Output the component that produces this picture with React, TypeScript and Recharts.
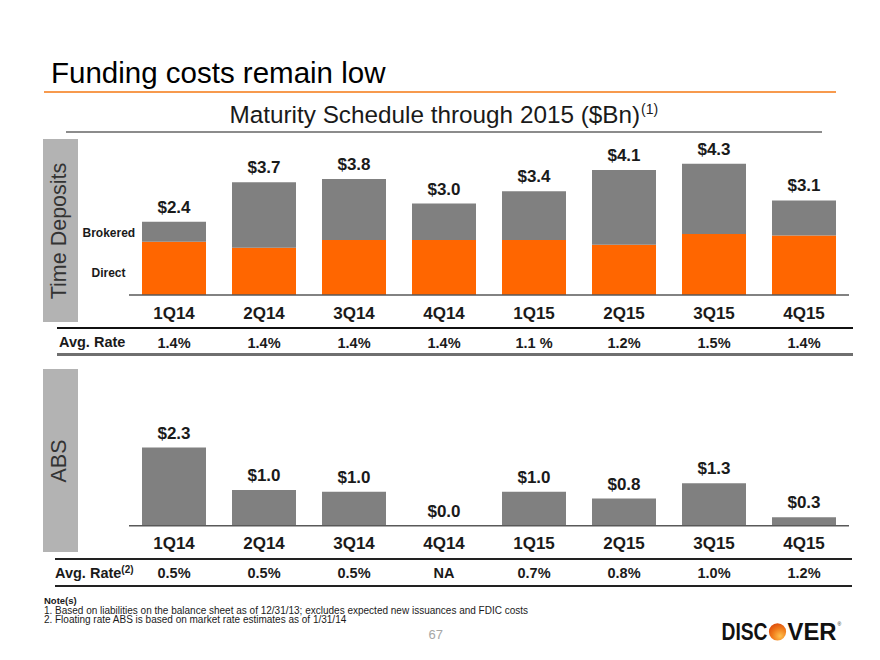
import React from "react";
import { BarChart, Bar, XAxis, YAxis, LabelList } from "recharts";

const quarters = ["1Q14", "2Q14", "3Q14", "4Q14", "1Q15", "2Q15", "3Q15", "4Q15"];

// Time deposits ($Bn)
const depositTotals = [2.4, 3.7, 3.8, 3.0, 3.4, 4.1, 4.3, 3.1];
const directDeposits = [1.75, 1.55, 1.8, 1.8, 1.8, 1.65, 2.0, 1.95];
const brokeredDeposits = [0.65, 2.15, 2.0, 1.2, 1.6, 2.45, 2.3, 1.15];
const depositRates = ["1.4%", "1.4%", "1.4%", "1.4%", "1.1 %", "1.2%", "1.5%", "1.4%"];

// ABS ($Bn)
const absValues = [2.3, 1.05, 1.0, 0, 1.0, 0.8, 1.25, 0.25];
const absLabels = ["$2.3", "$1.0", "$1.0", "$0.0", "$1.0", "$0.8", "$1.3", "$0.3"];
const absRates = ["0.5%", "0.5%", "0.5%", "NA", "0.7%", "0.8%", "1.0%", "1.2%"];

const FONT = "Arial, 'Liberation Sans', Helvetica, sans-serif";
const ORANGE = "#FF6600";
const GRAY = "#808080";
const INK = "#1a1a1a";

const depositData = quarters.map((q, i) => ({
  quarter: q,
  direct: directDeposits[i],
  brokered: brokeredDeposits[i],
  label: `$${depositTotals[i].toFixed(1)}`,
}));

const absData = quarters.map((q, i) => ({
  quarter: q,
  value: absValues[i],
  label: absLabels[i],
}));

const makeTick = (rates: string[]) => (props: any) => {
  const { x, y, payload } = props;
  const i = quarters.indexOf(payload.value);
  return (
    <g>
      <text x={x} y={y + 23.5} textAnchor="middle" fontSize={17} fontWeight="bold" fill={INK} fontFamily={FONT}>
        {payload.value}
      </text>
      <text x={x} y={y + 52.7} textAnchor="middle" fontSize={14.5} fontWeight="bold" fill={INK} fontFamily={FONT}>
        {rates[i]}
      </text>
    </g>
  );
};

const abs = (style: React.CSSProperties): React.CSSProperties => ({ position: "absolute", ...style });

const SideBox = ({ top, text }: { top: number; text: string }) => (
  <div style={abs({ left: 42.5, top, width: 35, height: 183, background: "#b3b3b3" })}>
    <div
      style={abs({
        left: "50%",
        top: "50%",
        transform: "translate(-50%, -50%) rotate(-90deg)",
        whiteSpace: "nowrap",
        fontSize: 21.5,
        color: "#333",
        lineHeight: 1,
      })}
    >
      {text}
    </div>
  </div>
);

const Rule = ({ top, left, width, height, color }: any) => (
  <div style={abs({ top, left, width, height, background: color })} />
);

const Logo = () => (
  <svg width={130} height={30} style={abs({ left: 716, top: 617 })}>
    <defs>
      <radialGradient id="discO" cx="65%" cy="75%" r="75%">
        <stop offset="0%" stopColor="#FFC04D" />
        <stop offset="60%" stopColor="#F07A1A" />
        <stop offset="100%" stopColor="#E0520E" />
      </radialGradient>
    </defs>
    <text x={5.5} y={23} fontSize={23} fontWeight="bold" fill="#111" fontFamily={FONT} textLength={46} lengthAdjust="spacingAndGlyphs">
      DISC
    </text>
    <circle cx={61.5} cy={14.8} r={8.6} fill="url(#discO)" />
    <text x={71.5} y={23} fontSize={23} fontWeight="bold" fill="#111" fontFamily={FONT} textLength={49} lengthAdjust="spacingAndGlyphs">
      VER
    </text>
    <text x={121.5} y={9} fontSize={5} fill="#111" fontFamily={FONT}>®</text>
  </svg>
);

export default function App() {
  return (
    <div style={abs({ left: 0, top: 0, width: 880, height: 660, background: "#fff", fontFamily: FONT, overflow: "hidden" })}>
      {/* Title */}
      <div style={abs({ left: 51, top: 58.3, fontSize: 29.5, lineHeight: 1, color: "#000", whiteSpace: "nowrap" })}>
        Funding costs remain low
      </div>
      <Rule top={91.3} left={44} width={792} height={1.5} color="#F79A4E" />

      {/* Subtitle */}
      <div style={abs({ left: 229.5, top: 102.5, fontSize: 24.3, lineHeight: 1, color: INK, whiteSpace: "nowrap" })}>
        Maturity Schedule through 2015 ($Bn)
        <span style={{ fontSize: 14, position: "relative", top: -9, marginLeft: 1 }}>(1)</span>
      </div>
      <Rule top={131.3} left={66} width={756} height={2} color="#8c8c8c" />

      {/* Side labels */}
      <SideBox top={139} text="Time Deposits" />
      <SideBox top={369} text="ABS" />

      <div style={abs({ left: 82.5, top: 226.8, fontSize: 12, fontWeight: "bold", lineHeight: 1, color: INK })}>Brokered</div>
      <div style={abs({ left: 91.5, top: 266.8, fontSize: 12, fontWeight: "bold", lineHeight: 1, color: INK })}>Direct</div>

      {/* Time deposits chart */}
      <div style={abs({ left: 0, top: 0 })}>
        <BarChart width={880} height={360} data={depositData} margin={{ top: 142.5, right: 31, bottom: 35, left: 129 }}>
          <XAxis
            dataKey="quarter"
            interval={0}
            height={30}
            tickSize={0}
            tickMargin={0}
            tickLine={false}
            axisLine={{ stroke: "#595959", strokeWidth: 1.5 }}
            tick={makeTick(depositRates)}
          />
          <YAxis hide type="number" domain={[0, 5]} />
          <Bar dataKey="direct" stackId="td" fill={ORANGE} barSize={64} isAnimationActive={false} />
          <Bar dataKey="brokered" stackId="td" fill={GRAY} barSize={64} isAnimationActive={false}>
            <LabelList dataKey="label" position="top" offset={9} fill={INK} fontSize={17} fontWeight="bold" fontFamily={FONT} />
          </Bar>
        </BarChart>
      </div>

      {/* Time deposits rate row */}
      <Rule top={327.3} left={57} width={796} height={1.5} color="#111" />
      <Rule top={353.3} left={57} width={796} height={2.5} color="#6f6f6f" />
      <div style={abs({ left: 59, top: 335.4, fontSize: 14.5, fontWeight: "bold", lineHeight: 1, color: INK })}>Avg. Rate</div>

      {/* ABS chart */}
      <div style={abs({ left: 0, top: 366 })}>
        <BarChart width={880} height={220} data={absData} margin={{ top: 57.7, right: 31, bottom: 30.3, left: 129 }}>
          <XAxis
            dataKey="quarter"
            interval={0}
            height={30}
            tickSize={0}
            tickMargin={0}
            tickLine={false}
            axisLine={{ stroke: "#595959", strokeWidth: 1.5 }}
            tick={makeTick(absRates)}
          />
          <YAxis hide type="number" domain={[0, 3]} />
          <Bar dataKey="value" fill={GRAY} barSize={64} minPointSize={0.01} isAnimationActive={false}>
            <LabelList dataKey="label" position="top" offset={9} fill={INK} fontSize={17} fontWeight="bold" fontFamily={FONT} />
          </Bar>
        </BarChart>
      </div>

      {/* ABS rate row */}
      <Rule top={558.3} left={55} width={797} height={1.5} color="#222" />
      <Rule top={585} left={55} width={797} height={1.5} color="#222" />
      <div style={abs({ left: 55, top: 566.2, fontSize: 14.5, fontWeight: "bold", lineHeight: 1, color: INK, whiteSpace: "nowrap" })}>
        Avg. Rate<span style={{ fontSize: 10, position: "relative", top: -5 }}>(2)</span>
      </div>

      {/* Notes */}
      <div style={abs({ left: 44, top: 596.3, fontSize: 9.5, fontWeight: "bold", lineHeight: 1, color: INK })}>Note(s)</div>
      <div style={abs({ left: 44, top: 605.8, fontSize: 10, lineHeight: 1, color: INK, whiteSpace: "nowrap" })}>
        <span style={{ display: "inline-block", width: 11 }}>1.</span>
        Based on liabilities on the balance sheet as of 12/31/13; excludes expected new issuances and FDIC costs
      </div>
      <div style={abs({ left: 44, top: 615.1, fontSize: 10, lineHeight: 1, color: INK, whiteSpace: "nowrap" })}>
        <span style={{ display: "inline-block", width: 11 }}>2.</span>
        Floating rate ABS is based on market rate estimates as of 1/31/14
      </div>

      {/* Page number */}
      <div style={abs({ left: 428.5, top: 627.6, fontSize: 13, lineHeight: 1, color: "#a6a6a6" })}>67</div>

      <Logo />
    </div>
  );
}
